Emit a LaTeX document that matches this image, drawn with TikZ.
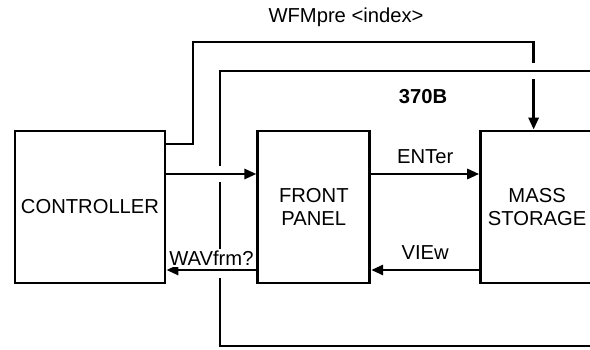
\documentclass[tikz,border=0pt]{standalone}
\usepackage{fontspec}
\setmainfont{Liberation Sans}
\usetikzlibrary{positioning,arrows.meta}

\begin{document}
\begin{tikzpicture}[
          box/.style={rectangle, draw, line width=1.6pt, minimum height=3.04cm,
              font=\fontsize{11.5}{13.5}\selectfont, align=center},
          arr/.style={-{Triangle[length=2.4mm,width=2mm]}, line width=1.6pt},
          gap/.style={preaction={draw=white, line width=0.32cm, -}},
          lbl/.style={font=\fontsize{11.5}{13.5}\selectfont}
        ]
        \useasboundingbox (0,0) rectangle (11.8,6.98);
        \node[box, minimum width=3cm] (ctrl) at (1.8,2.84) {CONTROLLER};
        \node[box, minimum width=2.24cm, right=1.8cm of ctrl]  (fp) {FRONT\\PANEL};
        \node[box, minimum width=2.26cm, right=2.16cm of fp]   (ms) {MASS\\STORAGE};
        % corner of the WFMpre line and the 370B outline
        \coordinate (wfmtop) at (3.86,6.14);
        \coordinate (rimtop) at (11.8,5.56);
        \coordinate (rimbot) at (11.8,0.06);
        \draw[arr] ([yshift=1.26cm]ctrl.east) -| (wfmtop) -| ([xshift=-0.07cm]ms.north);
        \draw[line width=1.6pt, gap] (rimtop) -- (4.4,5.56) -- (4.4,0.06) -- (rimbot);
        \draw[arr, gap] ([yshift=0.66cm]ctrl.east) -- ([yshift=0.66cm]fp.west);
        \draw[arr, gap] ([yshift=-1.26cm]fp.west) -- ([yshift=-1.26cm]ctrl.east)
            node[lbl, midway, above=1pt, fill=white, inner sep=1pt] (wav) {WAVfrm?};
        \draw[arr] ([yshift=0.66cm]fp.east) -- ([yshift=0.66cm]ms.west)
            node[lbl, midway, above=2pt] (ent) {ENTer};
        \draw[arr] ([yshift=-1.26cm]ms.west) -- ([yshift=-1.26cm]fp.east)
            node[lbl, midway, above=2pt] (view) {VIEw};
        \node[lbl] (wfm) at (6.92,6.64) {WFMpre <index>};
        \node[lbl, font=\fontsize{11.5}{13.5}\selectfont\bfseries] (inst) at (8.46,5.04) {370B};
      \end{tikzpicture}
\end{document}
